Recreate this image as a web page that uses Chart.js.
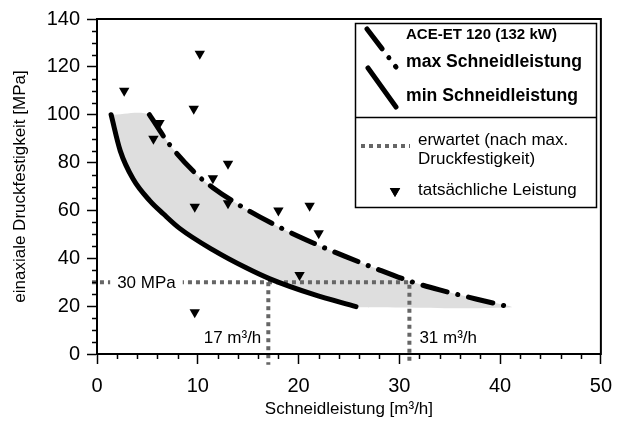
<!DOCTYPE html>
<html>
<head>
<meta charset="utf-8">
<script src="https://cdn.jsdelivr.net/npm/chart.js@4.4.1/dist/chart.umd.min.js"></script>
<style>
  body { margin: 0; background: #fff; }
  #wrap { width: 622px; height: 425px; position: relative; }
</style>
</head>
<body>
<div id="wrap"><canvas id="chart"></canvas></div>
<script>
// Kurven ACE-ET 120 (132 kW)
const maxX = [5.2, 7.2, 9.9, 11.5, 14.8, 18.1, 21.4, 24.5, 27.5, 31, 34, 37.6, 41.1];
const maxY = [100, 87.5, 75, 69.5, 60.5, 53, 46.5, 41, 36, 30.5, 26.8, 23, 19.5];
const minX = [1.4, 2.3, 3.6, 5.25, 6.6, 8.2, 11.5, 14.8, 17.1, 21.4, 25.7];
const minY = [100, 85, 73, 64, 58.5, 52.5, 43.5, 36, 31.5, 25, 19.8];

// tatsächliche Leistung
const istX = [2.7, 10.2, 9.6, 6.2, 5.6, 13.0, 11.5, 9.7, 13.0, 18.0, 21.1, 22.0, 20.1, 9.7];
const istY = [110, 125.5, 102.5, 96.5, 90, 79.5, 73.5, 61.5, 63, 60, 62, 50.5, 33, 17.5];

// erwartet (nach max. Druckfestigkeit)
const druck = 30;
const erwartetMin = 17;
const erwartetMax = 31;

const xTicks = [0, 10, 20, 30, 40, 50];
const yTicks = [0, 20, 40, 60, 80, 100, 120, 140];

const pts = (xs, ys) => xs.map((x, i) => ({ x: x, y: ys[i] }));

const FONT = "'Liberation Sans', Arial, sans-serif";

// grauer Bereich zwischen den Kurven
const bereich = [{ x: minX[0], y: maxY[0] }]
  .concat(pts(maxX, maxY))
  .concat([{ x: minX[minX.length - 1], y: maxY[maxY.length - 1] }])
  .concat(pts(minX, minY).reverse());

const decor = {
  id: "decor",
  afterDatasetsDraw(chart) {
    const { ctx, scales: { x, y } } = chart;
    ctx.save();
    ctx.font = "17px " + FONT;
    ctx.textBaseline = "middle";
    // 30 MPa label on the dotted line
    const lx = x.getPixelForValue(2.0);
    const ly = y.getPixelForValue(druck);
    const w = ctx.measureText("30 MPa").width;
    ctx.fillStyle = "#fff";
    ctx.fillRect(lx - 7, ly - 6, w + 14, 12);
    ctx.fillStyle = "#000";
    ctx.fillText("30 MPa", lx, ly + 1);

    // m³/h labels
    const ty = y.getPixelForValue(6.5);
    ctx.textAlign = "right";
    ctx.fillText("17 m³/h", x.getPixelForValue(erwartetMin) - 7, ty);
    ctx.textAlign = "left";
    ctx.fillText("31 m³/h", x.getPixelForValue(erwartetMax) + 10, ty);
    ctx.restore();
  },
  afterDraw(chart) {
    const { ctx, chartArea: a, scales: { x, y } } = chart;
    ctx.save();
    // frame
    ctx.strokeStyle = "#000";
    ctx.lineWidth = 2;
    ctx.strokeRect(a.left, a.top, a.right - a.left, a.bottom - a.top);

    // minor ticks
    ctx.lineWidth = 1.5;
    ctx.beginPath();
    for (let v = 0; v <= 50; v += 2) {
      if (v % 10 === 0) continue;
      const px = Math.round(x.getPixelForValue(v)) + 0.5;
      ctx.moveTo(px, a.bottom);
      ctx.lineTo(px, a.bottom + 5);
    }
    for (let v = 0; v <= 140; v += 5) {
      if (v % 20 === 0) continue;
      const py = Math.round(y.getPixelForValue(v)) + 0.5;
      ctx.moveTo(a.left, py);
      ctx.lineTo(a.left - 5, py);
    }
    ctx.stroke();

    // legend
    ctx.fillStyle = "#fff";
    ctx.fillRect(355, 23, 241, 184);
    ctx.lineWidth = 1.5;
    ctx.strokeRect(355.5, 23.5, 241, 184);
    ctx.beginPath();
    ctx.moveTo(355, 117.5);
    ctx.lineTo(596, 117.5);
    ctx.stroke();

    ctx.lineCap = "round";
    ctx.lineWidth = 5;
    ctx.setLineDash([25, 11, 0.1, 11]);
    ctx.beginPath();
    ctx.moveTo(367, 29);
    ctx.lineTo(396, 67);
    ctx.stroke();
    ctx.setLineDash([]);
    ctx.beginPath();
    ctx.moveTo(368, 68);
    ctx.lineTo(396, 107);
    ctx.stroke();

    ctx.lineCap = "butt";
    ctx.strokeStyle = "#666";
    ctx.lineWidth = 4;
    ctx.setLineDash([4, 4]);
    ctx.beginPath();
    ctx.moveTo(361, 146);
    ctx.lineTo(410, 146);
    ctx.stroke();
    ctx.setLineDash([]);

    ctx.fillStyle = "#000";
    Chart.helpers.drawPoint(ctx, { pointStyle: "triangle", rotation: 180, radius: 6, borderWidth: 0 }, 395, 191);
    ctx.fill();

    ctx.textBaseline = "middle";
    ctx.textAlign = "left";
    ctx.font = "bold 15px " + FONT;
    ctx.fillText("ACE-ET 120 (132 kW)", 406, 35);
    ctx.font = "bold 17.6px " + FONT;
    ctx.fillText("max Schneidleistung", 406, 62);
    ctx.fillText("min Schneidleistung", 406, 96);
    ctx.font = "17px " + FONT;
    ctx.fillText("erwartet (nach max.", 418, 140);
    ctx.fillText("Druckfestigkeit)", 418, 159);
    ctx.fillText("tatsächliche Leistung", 418, 190);
    ctx.restore();
  }
};

new Chart(document.getElementById("chart"), {
  type: "scatter",
  data: {
    datasets: [
      {
        label: "tatsächliche Leistung",
        data: pts(istX, istY),
        pointStyle: "triangle",
        rotation: 180,
        pointRadius: 6,
        backgroundColor: "#000",
        borderWidth: 0,
        order: 1
      },
      {
        label: "max Schneidleistung",
        data: pts(maxX, maxY),
        showLine: true,
        borderColor: "#000",
        borderWidth: 5,
        borderDash: [25, 11, 0.1, 11],
        borderCapStyle: "round",
        cubicInterpolationMode: "monotone",
        pointRadius: 0,
        order: 2
      },
      {
        label: "min Schneidleistung",
        data: pts(minX, minY),
        showLine: true,
        borderColor: "#000",
        borderWidth: 5,
        borderCapStyle: "round",
        cubicInterpolationMode: "monotone",
        pointRadius: 0,
        order: 2
      },
      {
        label: "erwartet",
        data: [{ x: -0.5, y: druck }, { x: erwartetMax, y: druck }, { x: erwartetMax, y: -4.5 }],
        showLine: true,
        borderColor: "#666",
        borderWidth: 4,
        borderDash: [4, 4],
        pointRadius: 0,
        clip: false,
        order: 3
      },
      {
        label: "erwartet 17",
        data: [{ x: erwartetMin, y: druck }, { x: erwartetMin, y: -4.5 }],
        showLine: true,
        borderColor: "#666",
        borderWidth: 4,
        borderDash: [4, 4],
        pointRadius: 0,
        clip: false,
        order: 3
      },
      {
        label: "Bereich",
        data: bereich,
        showLine: true,
        borderWidth: 0,
        borderColor: "rgba(0,0,0,0)",
        backgroundColor: "#dedede",
        fill: "shape",
        tension: 0.3,
        pointRadius: 0,
        order: 5
      }
    ]
  },
  options: {
    responsive: true,
    maintainAspectRatio: false,
    animation: false,
    layout: { padding: { top: 18, right: 20, left: 0, bottom: 0 } },
    plugins: { legend: { display: false }, tooltip: { enabled: false } },
    scales: {
      x: {
        type: "linear",
        min: 0,
        max: 50,
        afterFit: (s) => { s.height = 71; },
        afterBuildTicks: (s) => { s.ticks = xTicks.map((v) => ({ value: v })); },
        ticks: { font: { size: 20, family: FONT }, color: "#000", padding: 10, maxRotation: 0 },
        grid: { drawOnChartArea: false, tickLength: 10, tickColor: "#000", tickWidth: 1.5 },
        border: { color: "#000", width: 2 },
        title: { display: true, text: "Schneidleistung [m³/h]", font: { size: 17, family: FONT }, color: "#000", padding: { bottom: 5 } }
      },
      y: {
        min: 0,
        max: 140,
        afterFit: (s) => { s.width = 97; },
        afterBuildTicks: (s) => { s.ticks = yTicks.map((v) => ({ value: v })); },
        ticks: { font: { size: 20, family: FONT }, color: "#000", padding: 7 },
        grid: { drawOnChartArea: false, tickLength: 10, tickColor: "#000", tickWidth: 1.5 },
        border: { color: "#000", width: 2 },
        title: { display: true, text: "einaxiale Druckfestigkeit [MPa]", font: { size: 17, family: FONT }, color: "#000", padding: { top: 10 } }
      }
    }
  },
  plugins: [decor]
});
</script>
</body>
</html>
